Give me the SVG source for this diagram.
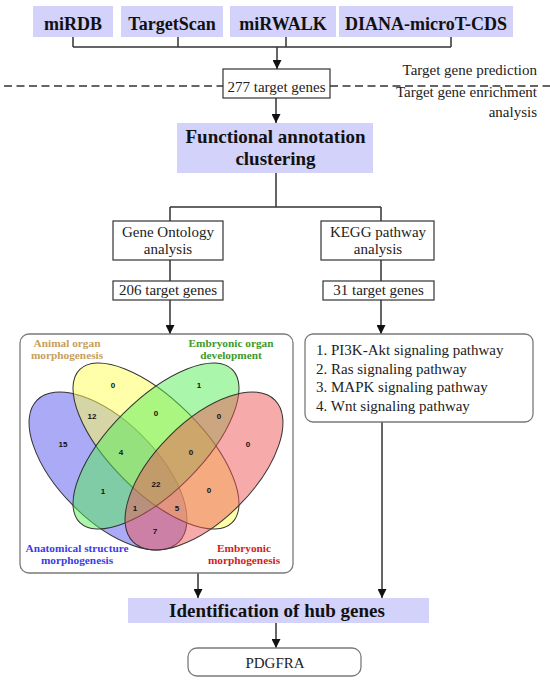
<svg xmlns="http://www.w3.org/2000/svg" width="550" height="680" viewBox="0 0 550 680">
<style>
.hdr{fill:#d2d2fa}
.bx{fill:#fff;stroke:#333;stroke-width:1.2}
.rb{fill:#fff;stroke:#7a7a7a;stroke-width:1.3}
.t{font-family:"Liberation Serif","Times New Roman",serif;font-size:15px;fill:#222}
.m{text-anchor:middle}
.tb{font-family:"Liberation Serif","Times New Roman",serif;font-weight:bold;fill:#111;text-anchor:middle}
.n{font-family:"Liberation Sans",Arial,sans-serif;font-weight:bold;font-size:8px;text-anchor:middle;fill:#111}
.lb{font-family:"Liberation Serif","Times New Roman",serif;font-weight:bold;font-size:11.3px;text-anchor:middle}
.c{stroke:#333;stroke-width:1.5;fill:none}
.ell{stroke:#333;stroke-width:1;fill-opacity:0.5}
</style>
<defs>
<marker id="ah" markerUnits="userSpaceOnUse" markerWidth="9" markerHeight="9" viewBox="0 0 10 10" refX="10" refY="5" orient="auto">
<path d="M0,0 L10,5 L0,10 z" fill="#111"/>
</marker>
</defs>

<g id="connectors">
<path class="c" d="M73,37 V47 M178,37 V47 M286,37 V47 M451,37 V47 M73,47 H451"/>
<line class="c" x1="277" y1="47" x2="277" y2="69" marker-end="url(#ah)"/>
<line class="c" x1="276" y1="98" x2="276" y2="123" marker-end="url(#ah)"/>
<path class="c" d="M276,173 V207 M170,207 H381 M170,207 V221 M381,207 V221 M170,260 V281 M381,260 V281"/>
<line class="c" x1="170" y1="300" x2="170" y2="334" marker-end="url(#ah)"/>
<line class="c" x1="381" y1="300" x2="381" y2="334" marker-end="url(#ah)"/>
<line class="c" x1="198" y1="573" x2="198" y2="598" marker-end="url(#ah)"/>
<line class="c" x1="382" y1="422" x2="382" y2="598" marker-end="url(#ah)"/>
<line class="c" x1="276" y1="623" x2="276" y2="648" marker-end="url(#ah)"/>
</g>

<g id="dashed-separator">
<path d="M4,86 H223 M330,86 H550" stroke="#333" stroke-width="1.3" stroke-dasharray="8 4.5" fill="none"/>
<text class="t" x="537" y="75" text-anchor="end">Target gene prediction</text>
<text class="t" x="537" y="97" text-anchor="end">Target gene enrichment</text>
<text class="t" x="537" y="117" text-anchor="end">analysis</text>
</g>

<g id="miRDB"><rect class="hdr" x="33" y="6" width="80" height="31"/><text class="tb" x="73" y="30" font-size="18">miRDB</text></g>
<g id="TargetScan"><rect class="hdr" x="121" y="6" width="102" height="31"/><text class="tb" x="172" y="30" font-size="18">TargetScan</text></g>
<g id="miRWALK"><rect class="hdr" x="230" y="6" width="106" height="31"/><text class="tb" x="283" y="30" font-size="18">miRWALK</text></g>
<g id="DIANA"><rect class="hdr" x="339" y="6" width="174" height="31"/><text class="tb" x="426" y="30" font-size="18">DIANA-microT-CDS</text></g>

<g id="genes277"><rect class="bx" x="223" y="69" width="107" height="29"/><text class="t m" x="276.5" y="92">277 target genes</text></g>

<g id="functional"><rect class="hdr" x="177" y="123" width="196" height="50"/>
<text class="tb" x="275.5" y="143" font-size="19">Functional annotation</text>
<text class="tb" x="275.5" y="165" font-size="19">clustering</text></g>

<g id="go"><rect class="bx" x="113" y="221" width="110" height="39"/>
<text class="t m" x="168" y="237">Gene Ontology</text><text class="t m" x="168" y="254">analysis</text></g>
<g id="kegg"><rect class="bx" x="321" y="221" width="113" height="39"/>
<text class="t m" x="378" y="237">KEGG pathway</text><text class="t m" x="378" y="254">analysis</text></g>

<g id="genes206"><rect class="bx" x="113" y="281" width="110" height="19"/><text class="t m" x="168" y="295">206 target genes</text></g>
<g id="genes31"><rect class="bx" x="323" y="281" width="111" height="19"/><text class="t m" x="378.5" y="295">31 target genes</text></g>

<g id="venn">
<rect class="rb" x="20" y="334" width="273" height="239" rx="9"/>
<ellipse class="ell" cx="108" cy="471" rx="100.3" ry="49.1" fill="#5555ee" transform="rotate(45 108 471)"/>
<ellipse class="ell" cx="156" cy="446" rx="108" ry="46" fill="#ffff55" transform="rotate(45 156 446)"/>
<ellipse class="ell" cx="156" cy="446" rx="108" ry="46" fill="#55ee55" transform="rotate(-45 156 446)"/>
<ellipse class="ell" cx="204" cy="471" rx="100.3" ry="49.1" fill="#ee5555" transform="rotate(-45 204 471)"/>
<text class="n" x="113" y="388">0</text>
<text class="n" x="199" y="388">1</text>
<text class="n" x="92" y="419">12</text>
<text class="n" x="156" y="416">0</text>
<text class="n" x="219" y="419">0</text>
<text class="n" x="63" y="447">15</text>
<text class="n" x="121" y="455">4</text>
<text class="n" x="191" y="455">0</text>
<text class="n" x="248" y="447">0</text>
<text class="n" x="103" y="494">1</text>
<text class="n" x="156" y="487">22</text>
<text class="n" x="209" y="493">0</text>
<text class="n" x="135" y="511">1</text>
<text class="n" x="177" y="511">5</text>
<text class="n" x="155" y="534">7</text>
<text class="lb" x="67" y="347" fill="#c8a05a">Animal organ</text>
<text class="lb" x="67" y="359" fill="#c8a05a">morphogenesis</text>
<text class="lb" x="231" y="347" fill="#3e9a2a">Embryonic organ</text>
<text class="lb" x="231" y="359" fill="#3e9a2a">development</text>
<text class="lb" x="77" y="552" fill="#3c3ce6">Anatomical structure</text>
<text class="lb" x="77" y="564" fill="#3c3ce6">morphogenesis</text>
<text class="lb" x="244" y="552" fill="#d01e1e">Embryonic</text>
<text class="lb" x="244" y="564" fill="#d01e1e">morphogenesis</text>
</g>

<g id="pathways">
<rect class="rb" x="305" y="334" width="228" height="88" rx="8"/>
<text class="t" x="316" y="355">1. PI3K-Akt signaling pathway</text>
<text class="t" x="316" y="373.5">2. Ras signaling pathway</text>
<text class="t" x="316" y="392">3. MAPK signaling pathway</text>
<text class="t" x="316" y="410.5">4. Wnt signaling pathway</text>
</g>

<g id="hub"><rect class="hdr" x="128" y="598" width="301" height="25"/>
<text class="tb" x="277" y="617" font-size="19">Identification of hub genes</text></g>

<g id="pdgfra"><rect class="rb" x="188" y="648" width="173" height="28" rx="9"/>
<text class="t m" x="275" y="668">PDGFRA</text></g>
</svg>
